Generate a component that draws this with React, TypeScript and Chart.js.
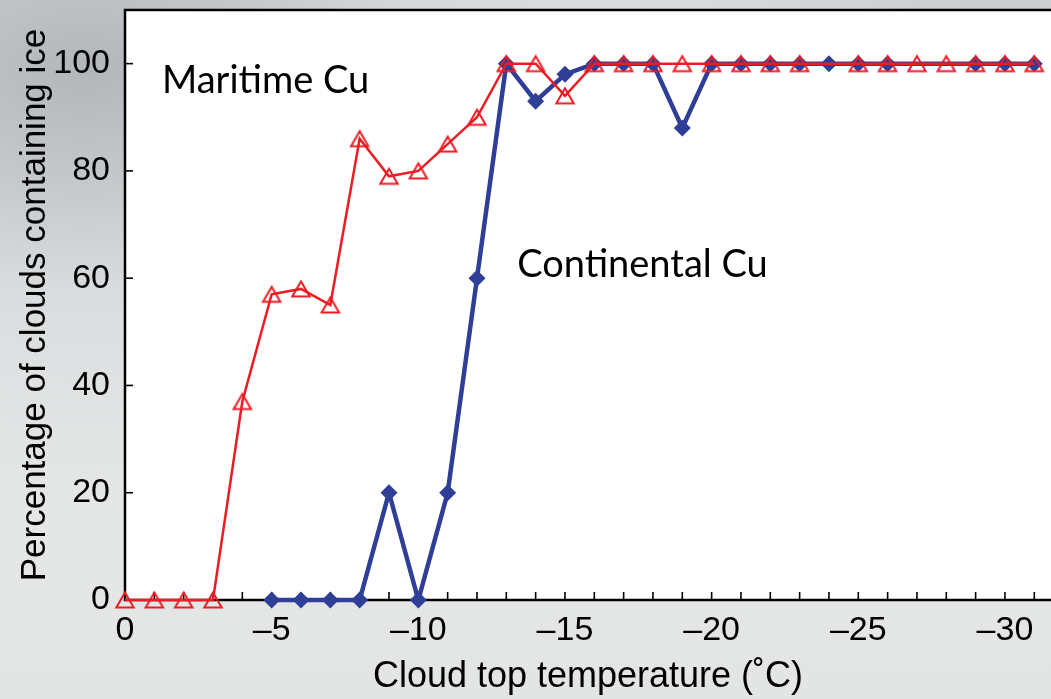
import React, { useEffect, useRef } from "react";
import { Chart, registerables } from "chart.js";

Chart.register(...registerables);

// ---- data ----
const temperatures = [0, -1, -2, -3, -4, -5, -6, -7, -8, -9, -10, -11, -12, -13, -14, -15, -16, -17, -18, -19, -20, -21, -22, -23, -24, -25, -26, -27, -28, -29, -30, -31];
const maritimeValues: (number | null)[] = [0, 0, 0, 0, 37, 57, 58, 55, 86, 79, 80, 85, 90, 100, 100, 94, 100, 100, 100, 100, 100, 100, 100, 100, null, 100, 100, 100, 100, 100, 100, 100];
const continentalValues: (number | null)[] = [null, null, null, null, null, 0, 0, 0, 0, 20, 0, 20, 60, 100, 93, 98, 100, 100, 100, 88, 100, 100, 100, 100, 100, 100, 100, null, null, 100, 100, 100];
const xTickValues = [0, -5, -10, -15, -20, -25, -30];
const yTickValues = [0, 20, 40, 60, 80, 100];
const seriesLabels = ["Maritime Cu", "Continental Cu"];
const labelX = [-1.26, -13.37];
const labelY = [94.6, 60.3];

const RED = "#ec1c24";
const BLUE = "#2f3e97";

const toPoints = (vals: (number | null)[]) =>
  temperatures
    .map((t, i) => ({ x: t, y: vals[i] }))
    .filter((p) => p.y !== null) as { x: number; y: number }[];

const fmt = (v: number) => (v < 0 ? "\u2013" + Math.abs(v) : String(v));

const zeroPad = (scale: any) => {
  scale.paddingTop = 0;
  scale.paddingBottom = 0;
  scale.paddingLeft = 0;
  scale.paddingRight = 0;
};

// open triangle marker, centred on its bounding box
const makeTriangle = () => {
  const c = document.createElement("canvas");
  c.width = 24;
  c.height = 24;
  const g = c.getContext("2d")!;
  g.strokeStyle = RED;
  g.lineWidth = 2;
  g.lineJoin = "miter";
  g.beginPath();
  g.moveTo(12, 4.5);
  g.lineTo(3.3, 19.5);
  g.lineTo(20.7, 19.5);
  g.closePath();
  g.stroke();
  return c;
};

export default function App() {
  const ref = useRef<HTMLCanvasElement>(null);

  useEffect(() => {
    if (!ref.current) return;
    const tri = makeTriangle();

    const framePlugin = {
      id: "frame",
      beforeDatasetsDraw(chart: any) {
        const { ctx, chartArea } = chart;
        const xs = chart.scales.x;
        const ys = chart.scales.y;
        ctx.save();
        ctx.strokeStyle = "#000";
        ctx.lineWidth = 2.5;
        ctx.beginPath();
        ctx.moveTo(chartArea.right + 2, chartArea.top);
        ctx.lineTo(chartArea.left, chartArea.top);
        ctx.lineTo(chartArea.left, chartArea.bottom);
        ctx.lineTo(chartArea.right + 2, chartArea.bottom);
        ctx.stroke();
        ctx.lineWidth = 1.6;
        temperatures.forEach((t) => {
          const px = xs.getPixelForValue(t);
          ctx.beginPath();
          ctx.moveTo(px, chartArea.bottom);
          ctx.lineTo(px, chartArea.bottom - 8);
          ctx.stroke();
        });
        yTickValues.forEach((v) => {
          const py = ys.getPixelForValue(v);
          ctx.beginPath();
          ctx.moveTo(chartArea.left, py);
          ctx.lineTo(chartArea.left + 8, py);
          ctx.stroke();
        });
        ctx.restore();
      },
      afterDatasetsDraw(chart: any) {
        const { ctx } = chart;
        const xs = chart.scales.x;
        const ys = chart.scales.y;
        ctx.save();
        ctx.fillStyle = "#000";
        ctx.font = "38px Lato";
        ctx.textAlign = "left";
        ctx.textBaseline = "alphabetic";
        seriesLabels.forEach((s, i) => {
          ctx.fillText(s, xs.getPixelForValue(labelX[i]), ys.getPixelForValue(labelY[i]));
        });
        ctx.restore();
      },
    };

    const chart = new Chart(ref.current, {
      type: "line",
      data: {
        datasets: [
          {
            label: seriesLabels[0],
            data: toPoints(maritimeValues),
            borderColor: RED,
            borderWidth: 2.5,
            backgroundColor: "rgba(0,0,0,0)",
            pointStyle: tri,
            pointRadius: 10,
            tension: 0,
            spanGaps: true,
            clip: false as any,
            order: 0,
          },
          {
            label: seriesLabels[1],
            data: toPoints(continentalValues),
            borderColor: BLUE,
            borderWidth: 4.5,
            backgroundColor: BLUE,
            pointStyle: "rectRot",
            pointRadius: 8.5,
            pointBorderWidth: 0,
            pointBackgroundColor: BLUE,
            tension: 0,
            spanGaps: true,
            clip: false as any,
            order: 1,
          },
        ],
      },
      options: {
        responsive: false,
        animation: false,
        events: [],
        layout: { autoPadding: false, padding: { top: 10, right: 0, left: 0, bottom: 0 } },
        plugins: {
          legend: { display: false },
          tooltip: { enabled: false },
        },
        scales: {
          x: {
            type: "linear",
            reverse: true,
            min: -31.57,
            max: 0,
            afterBuildTicks: (scale: any) => {
              scale.ticks = xTickValues.map((v) => ({ value: v }));
            },
            afterFit: (scale: any) => {
              scale.height = 99;
              zeroPad(scale);
            },
            ticks: {
              autoSkip: false,
              maxRotation: 0,
              padding: 10,
              color: "#000",
              font: { family: "'Liberation Sans', Arial, sans-serif", size: 34 },
              callback: (v: any) => fmt(Number(v)),
            },
            grid: { display: false, drawOnChartArea: false, drawTicks: false },
            border: { display: false },
            title: {
              display: true,
              text: "Cloud top temperature (\u02DAC)",
              color: "#000",
              font: { family: "'Liberation Sans', Arial, sans-serif", size: 36 },
              padding: { top: 0, bottom: 0 },
            },
          },
          y: {
            type: "linear",
            min: 0,
            max: 110,
            afterBuildTicks: (scale: any) => {
              scale.ticks = yTickValues.map((v) => ({ value: v }));
            },
            afterFit: (scale: any) => {
              scale.width = 125;
              zeroPad(scale);
            },
            ticks: {
              padding: 15,
              color: "#000",
              font: { family: "'Liberation Sans', Arial, sans-serif", size: 34 },
            },
            grid: { display: false, drawOnChartArea: false, drawTicks: false },
            border: { display: false },
            title: {
              display: true,
              text: "Percentage of clouds containing ice",
              color: "#000",
              font: { family: "'Liberation Sans', Arial, sans-serif", size: 35 },
              padding: { top: 14, bottom: 0 },
            },
          },
        },
      },
      plugins: [framePlugin],
    } as any);

    return () => chart.destroy();
  }, []);

  return (
    <div
      style={{
        position: "fixed",
        left: 0,
        top: 0,
        width: 1051,
        height: 699,
        overflow: "hidden",
        background:
          "radial-gradient(ellipse at 8% 10%, rgba(170,174,178,0.85) 0%, rgba(200,203,206,0.4) 25%, rgba(230,232,233,0) 50%), radial-gradient(ellipse at 95% 5%, rgba(190,194,197,0.7) 0%, rgba(220,222,224,0) 30%), linear-gradient(180deg, #dfe2e4 0%, #e6e8e9 50%, #e3e5e5 100%)",
      }}
    >
      <div
        style={{
          position: "absolute",
          left: 125,
          top: 10,
          width: 926,
          height: 590,
          background: "#fff",
        }}
      />
      <canvas
        ref={ref}
        width={1051}
        height={699}
        style={{ position: "absolute", left: 0, top: 0, width: 1051, height: 699 }}
      />
    </div>
  );
}
